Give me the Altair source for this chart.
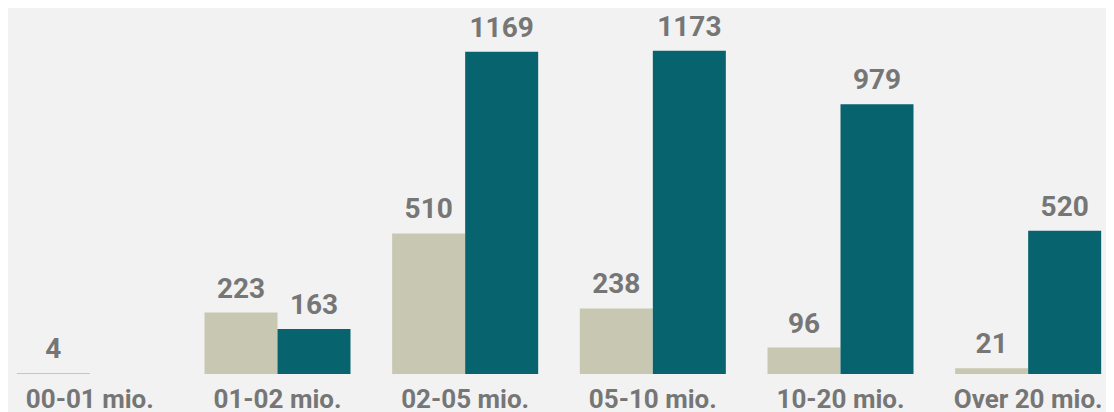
import altair as alt
import pandas as pd

categories = ["00-01 mio.", "01-02 mio.", "02-05 mio.", "05-10 mio.", "10-20 mio.", "Over 20 mio."]
series_names = ["Series 1", "Series 2"]
series1 = [4, 223, 510, 238, 96, 21]
series2 = [None, 163, 1169, 1173, 979, 520]
colors = ["#c8c7b1", "#07636e"]

rows = []
for c, a, b in zip(categories, series1, series2):
    rows.append({"cat": c, "series": series_names[0], "value": a})
    if b is not None:
        rows.append({"cat": c, "series": series_names[1], "value": b})
df = pd.DataFrame(rows)

W, H = 1098, 366
x = alt.X("cat:N", sort=categories,
          scale=alt.Scale(range=[-12, 1114], paddingInner=0.222, paddingOuter=0.111),
          axis=alt.Axis(title=None, labelAngle=0, domain=False, ticks=False,
                        labelFont="Roboto", labelFontWeight="bold", labelFontSize=26,
                        labelColor="#767676", labelPadding=12, labelBaseline="top"))
xo = alt.XOffset("series:N", sort=series_names, scale=alt.Scale(paddingInner=0))
y = alt.Y("value:Q", scale=alt.Scale(domain=[0, 1328], nice=False), axis=None)

base = alt.Chart(df).encode(x=x, xOffset=xo, y=y)
bars = base.mark_bar().encode(
    color=alt.Color("series:N", sort=series_names,
                    scale=alt.Scale(domain=series_names, range=colors), legend=None))
labels = base.mark_text(baseline="alphabetic", dy=-15, font="Roboto", fontWeight="bold",
                        fontSize=28, color="#767676").encode(text=alt.Text("value:Q"))

chart = (bars + labels).properties(
    width=W, height=H, background="#f2f2f2",
    autosize=alt.AutoSizeParams(type="none"),
    padding={"left": 0, "top": 0, "right": 0, "bottom": 38}
).configure_view(stroke=None)

chart.save("out.html", embed_options={"renderer": "svg", "actions": False})
